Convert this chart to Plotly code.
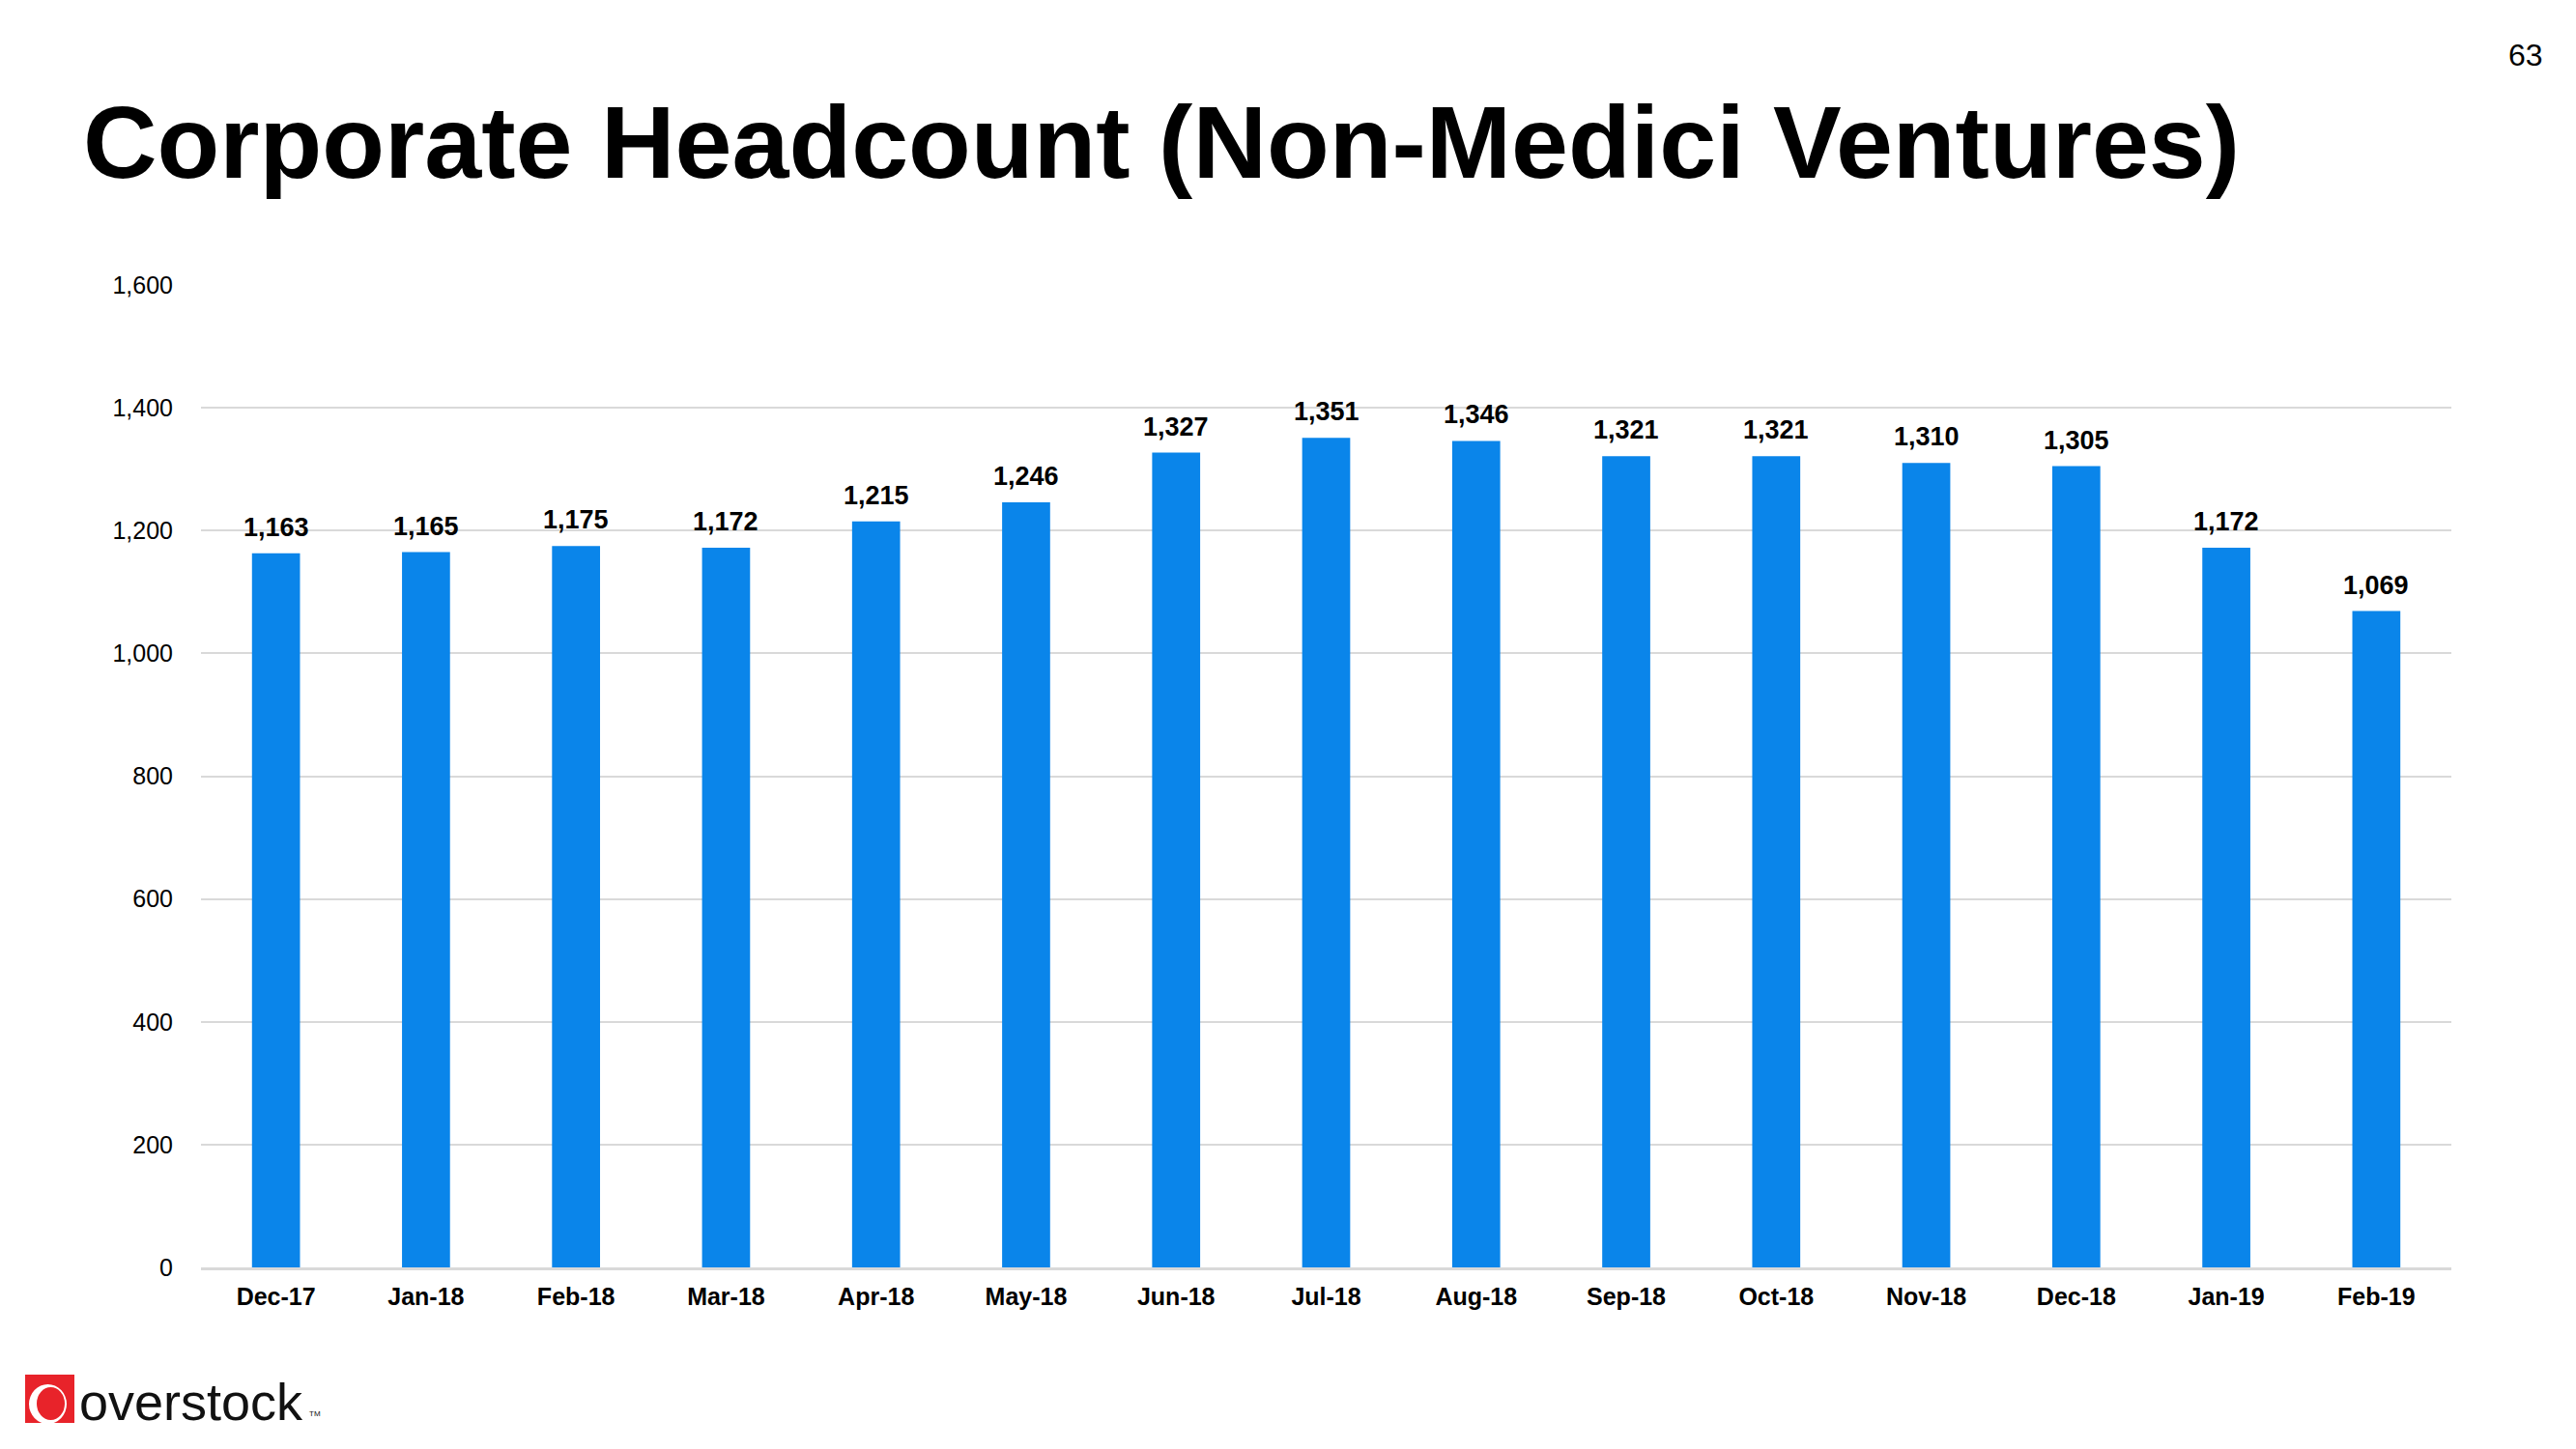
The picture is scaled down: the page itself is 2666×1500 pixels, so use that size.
import plotly.graph_objects as go

months = ["Dec-17", "Jan-18", "Feb-18", "Mar-18", "Apr-18", "May-18", "Jun-18", "Jul-18",
          "Aug-18", "Sep-18", "Oct-18", "Nov-18", "Dec-18", "Jan-19", "Feb-19"]
headcount = [1163, 1165, 1175, 1172, 1215, 1246, 1327, 1351, 1346, 1321, 1321, 1310, 1305, 1172, 1069]
y_ticks = [0, 200, 400, 600, 800, 1000, 1200, 1400, 1600]
y_tick_text = ["0", "200", "400", "600", "800", "1,000", "1,200", "1,400", "1,600"]

OFF = 8  # page body margin
W, H = 2666 - 2 * OFF, 1500 - 2 * OFF
# plot area in page pixels
PX0, PX1, PY0, PY1 = 208, 2537, 295, 1312
L, R, T, B = PX0 - OFF, W - (PX1 - OFF), PY0 - OFF, H - (PY1 - OFF)
PW, PH = W - L - R, H - T - B

def px(x):
    return (x - OFF - L) / PW

def py(y):
    return (H - B - (y - OFF)) / PH

BAR = "#0A85EA"
FONT = "Liberation Sans, Arial, sans-serif"

fig = go.Figure()
fig.add_trace(go.Bar(x=months, y=headcount, marker=dict(color=BAR, line=dict(width=0)),
                     width=0.32, hoverinfo="x+y"))

for m, v in zip(months, headcount):
    fig.add_annotation(x=m, y=v, text=f"<b>{v:,}</b>", showarrow=False, yanchor="bottom",
                       yshift=10, font=dict(family=FONT, size=27, color="#000000"))

fig.add_annotation(xref="paper", yref="paper", x=px(84), y=py(147), xanchor="left", yanchor="middle",
                   text="<b>Corporate Headcount (Non-Medici Ventures)</b>", showarrow=False,
                   font=dict(family=FONT, size=106, color="#000000"))
fig.add_annotation(xref="paper", yref="paper", x=px(2634), y=py(57), xanchor="right", yanchor="middle",
                   text="63", showarrow=False, font=dict(family=FONT, size=32, color="#000000"))

# logo
fig.add_shape(type="rect", xref="paper", yref="paper", x0=px(26), x1=px(77), y0=py(1473), y1=py(1423),
              fillcolor="#E8232A", line=dict(width=0), layer="above")
fig.add_shape(type="circle", xref="paper", yref="paper", x0=px(30), x1=px(69), y0=py(1474), y1=py(1433),
              fillcolor="#FFFFFF", line=dict(width=0), layer="above")
fig.add_shape(type="circle", xref="paper", yref="paper", x0=px(38), x1=px(67), y0=py(1470), y1=py(1436),
              fillcolor="#E8232A", line=dict(width=0), layer="above")
fig.add_annotation(xref="paper", yref="paper", x=px(80), y=py(1451), xanchor="left", yanchor="middle",
                   text="overstock", showarrow=False,
                   font=dict(family=FONT, size=54, color="#111111"))
fig.add_annotation(xref="paper", yref="paper", x=px(318), y=py(1463), xanchor="left", yanchor="middle",
                   text="TM", showarrow=False, font=dict(family=FONT, size=8, color="#111111"))

fig.update_layout(
    width=W, height=H,
    margin=dict(l=L, r=R, t=T, b=B, pad=0),
    paper_bgcolor="#FFFFFF", plot_bgcolor="#FFFFFF",
    showlegend=False, bargap=0.68,
    xaxis=dict(type="category", tickfont=dict(family=FONT, size=25, color="#000000"),
               tickprefix="<b>", ticksuffix="</b>", showgrid=False, showline=True,
               linecolor="#D9D9D9", linewidth=3, ticks="", ticklabelstandoff=6),
    yaxis=dict(range=[0, 1600], tickvals=y_ticks, ticktext=y_tick_text,
               tickfont=dict(family=FONT, size=25, color="#000000"),
               showgrid=True, gridcolor="#D9D9D9", gridwidth=2, zeroline=False,
               showline=False, ticks="", ticklabelstandoff=28),
)

fig.write_html("out.html")
